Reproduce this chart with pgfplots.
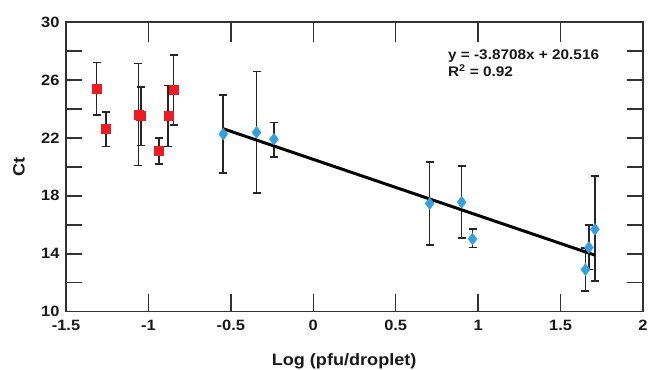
\documentclass[border=0pt]{standalone}
\usepackage{pgfplots}
\pgfplotsset{compat=1.18}
\usepackage{pgfplotstable}
\usepackage{fontspec}
\setmainfont{Liberation Sans}[FakeStretch=1.1]
\definecolor{myred}{RGB}{237,28,36}
\definecolor{myblue}{RGB}{52,160,220}
\definecolor{axgray}{RGB}{50,50,50}
\pgfplotstableread{
x y ep em
-1.314 25.39 1.82 1.82
-1.257 22.61 1.19 1.20
-1.061 23.57 3.57 3.47
-1.045 23.50 2.01 2.02
-0.936 21.11 0.89 0.92
-0.880 23.50 2.12 2.09
-0.847 25.30 2.42 2.42
}\redtab
\pgfplotstableread{
x y ep em
-0.546 22.26 2.72 2.67
-0.344 22.38 4.21 4.20
-0.239 21.91 1.16 1.22
0.706 17.47 2.85 2.86
0.900 17.56 2.49 2.46
0.966 15.02 0.67 0.59
1.651 12.91 1.50 1.50
1.672 14.43 1.54 1.53
1.708 15.69 3.67 3.59
}\bluetab
\begin{document}
\begin{tikzpicture}
\begin{axis}[
  scale only axis,
  width=577bp, height=289.7bp,
  xmin=-1.5, xmax=2, ymin=10, ymax=30,
  xtick={-1.5,-1,-0.5,0,0.5,1,1.5,2},
  ytick={10,12,14,16,18,20,22,24,26,28,30},
  yticklabels={10,,14,,18,,22,,26,,30},
  tick align=inside,
  major tick length=16pt,
  xtick style={draw=axgray, line width=1.5pt},
  ytick style={draw=axgray, line width=1.5pt},
  axis line style={draw=axgray, line width=1.5pt},
  /pgf/number format/assume math mode=true,
  ticklabel style={font=\fontsize{15}{17}\selectfont\bfseries, text=black!90},
  xticklabel style={yshift=-5bp},
  yticklabel style={xshift=-3bp},
  xlabel={Log (pfu/droplet)},
  ylabel={Ct},
  label style={font=\fontsize{16.5}{19}\selectfont\bfseries, text=black!90},
  xlabel style={at={(axis description cs:0.482,-0.1726)}, anchor=center},
  ylabel style={at={(axis description cs:-0.0815,0.5)}, anchor=center},
  clip=false,
  unbounded coords=jump,
]
\addplot[forget plot, axgray, line width=1.5pt, no marks] coordinates {
  (-1,10) (-1,11.24) (-1,nan)
  (-0.5,10) (-0.5,11.24) (-0.5,nan)
  (0,10) (0,11.24) (0,nan)
  (0.5,10) (0.5,11.24) (0.5,nan)
  (1,10) (1,11.24) (1,nan)
  (1.5,10) (1.5,11.24) (1.5,nan)
  (-1,30) (-1,28.62) (-1,nan)
  (-0.5,30) (-0.5,28.62) (-0.5,nan)
  (0,30) (0,28.62) (0,nan)
  (0.5,30) (0.5,28.62) (0.5,nan)
  (1,30) (1,28.62) (1,nan)
  (1.5,30) (1.5,28.62) (1.5,nan)
};
\addplot[forget plot, axgray, line width=1.5pt, no marks] coordinates {
  (-1.5,12) (-1.403,12) (nan,12)
  (-1.5,14) (-1.403,14) (nan,14)
  (-1.5,16) (-1.403,16) (nan,16)
  (-1.5,18) (-1.403,18) (nan,18)
  (-1.5,20) (-1.403,20) (nan,20)
  (-1.5,22) (-1.403,22) (nan,22)
  (-1.5,24) (-1.403,24) (nan,24)
  (-1.5,26) (-1.403,26) (nan,26)
  (-1.5,28) (-1.403,28) (nan,28)
  (2,12) (1.915,12) (nan,12)
  (2,14) (1.915,14) (nan,14)
  (2,16) (1.915,16) (nan,16)
  (2,18) (1.915,18) (nan,18)
  (2,20) (1.915,20) (nan,20)
  (2,22) (1.915,22) (nan,22)
  (2,24) (1.915,24) (nan,24)
  (2,26) (1.915,26) (nan,26)
  (2,28) (1.915,28) (nan,28)
};
\addplot[black, only marks, mark=square*, mark size=4.5bp,
  mark options={myred, draw=myred},
  error bars/.cd, y dir=both, y explicit,
  error bar style={line width=1.6pt, draw=black!85},
  error mark options={rotate=90, mark size=4bp, line width=1.6pt, draw=black!85}]
  table[x=x, y=y, y error plus=ep, y error minus=em] {\redtab};
\addplot[black, only marks, mark=diamond*, mark size=6bp,
  mark options={myblue, draw=myblue},
  error bars/.cd, y dir=both, y explicit,
  error bar style={line width=1.6pt, draw=black!85},
  error mark options={rotate=90, mark size=4bp, line width=1.6pt, draw=black!85}]
  table[x=x, y=y, y error plus=ep, y error minus=em] {\bluetab};
\addplot[black, line width=3pt] coordinates {(-0.546,22.6295) (1.708,13.9047)};
\node[anchor=base west, inner sep=0pt, font=\fontsize{14}{16}\selectfont\bfseries, text=black!90]
  at (axis cs:0.8166,27.42) {y = -3.8708x + 20.516};
\node[anchor=base west, inner sep=0pt, font=\fontsize{14}{16}\selectfont\bfseries, text=black!90]
  at (axis cs:0.8166,26.22) {R\textsuperscript{2} = 0.92};
\end{axis}
\pgfresetboundingbox
\path (-66bp,-58.3bp) rectangle (585bp,311.7bp);
\end{tikzpicture}
\end{document}
